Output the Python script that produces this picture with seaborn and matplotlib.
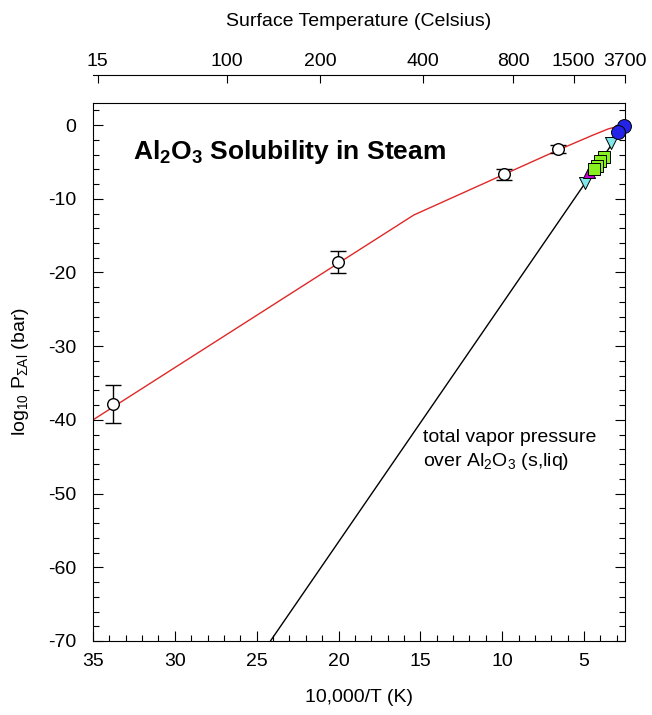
import numpy as np
import pandas as pd
import matplotlib
matplotlib.use("Agg")
import matplotlib.pyplot as plt
import seaborn as sns
from matplotlib.ticker import MultipleLocator

# ---------------- data ----------------
# model (red) solubility curve: 10000/T vs log10 P
model_x = [35.0, 15.4, 10.0, 6.6, 4.5, 3.5, 2.6]
model_y = [-40.0, -12.2, -6.8, -3.4, -1.4, -0.5, 0.0]

# total vapor pressure over Al2O3 (black line)
vapor_x = [24.16, 2.5]
vapor_y = [-70.0, 0.0]

# experimental points with error bars (open circles)
exp_x = [33.8, 20.05, 9.87, 6.59]
exp_y = [-37.8, -18.6, -6.7, -3.26]
exp_err = [2.6, 1.5, 0.8, 0.55]

# vapor-pressure measurement markers
blue_x = [2.58, 2.9]
blue_y = [-0.1, -0.9]
cyan_x = [3.34, 4.93]
cyan_y = [-2.4, -7.9]
green_x = [3.8, 4.0, 4.2, 4.42]
green_y = [-4.3, -4.9, -5.5, -6.0]
magenta_x = [4.7]
magenta_y = [-6.4]

celsius_ticks = [15, 100, 200, 400, 800, 1500, 3700]
bottom_ticks = [35, 30, 25, 20, 15, 10, 5]
y_ticks = [0, -10, -20, -30, -40, -50, -60, -70]

# ---------------- style ----------------
sns.set_theme(style="ticks")
plt.rcParams["font.family"] = ["Liberation Sans", "DejaVu Sans"]
plt.rcParams["mathtext.fontset"] = "custom"
plt.rcParams["mathtext.rm"] = "Liberation Sans"
plt.rcParams["mathtext.it"] = "Liberation Sans:italic"
plt.rcParams["mathtext.bf"] = "Liberation Sans:bold"
plt.rcParams["axes.unicode_minus"] = False
plt.rcParams["text.color"] = "black"
plt.rcParams["axes.labelcolor"] = "black"
plt.rcParams["xtick.color"] = "black"
plt.rcParams["ytick.color"] = "black"

FS = 14

fig = plt.figure(figsize=(6.52, 7.15), dpi=100)
ax = fig.add_axes([0.1426, 0.1035, 0.8160, 0.7525])

df_model = pd.DataFrame({"x": model_x, "y": model_y})
sns.lineplot(data=df_model, x="x", y="y", sort=False, color="#e02828", lw=1.0, ax=ax)
df_vap = pd.DataFrame({"x": vapor_x, "y": vapor_y})
sns.lineplot(data=df_vap, x="x", y="y", sort=False, color="black", lw=1.0, ax=ax)

ax.errorbar(exp_x, exp_y, yerr=exp_err, fmt="none", ecolor="black", elinewidth=1.0,
            capsize=6, capthick=1.0, zorder=3)
sns.scatterplot(x=exp_x, y=exp_y, marker="o", s=70, color="white", edgecolor="black",
                linewidth=1.0, ax=ax, zorder=4)

sns.scatterplot(x=cyan_x, y=cyan_y, marker="v", s=75, color="#7fe8ea", edgecolor="black",
                linewidth=0.7, ax=ax, zorder=4)
sns.scatterplot(x=magenta_x, y=magenta_y, marker="^", s=75, color="#c000d0", edgecolor="black",
                linewidth=0.7, ax=ax, zorder=4)
sns.scatterplot(x=green_x, y=green_y, marker="s", s=75, color="#88f020", edgecolor="black",
                linewidth=0.7, ax=ax, zorder=4)
sns.scatterplot(x=blue_x, y=blue_y, marker="o", s=100, color="#2424e8", edgecolor="black",
                linewidth=0.7, ax=ax, zorder=5, clip_on=False)

ax.set_xlim(35, 2.5)
ax.set_ylim(-70, 3)
ax.set_xticks(bottom_ticks)
ax.set_xticklabels([str(t) for t in bottom_ticks])
ax.xaxis.set_minor_locator(MultipleLocator(1))
ax.set_yticks(y_ticks)
ax.set_yticklabels([str(t) for t in y_ticks])
ax.yaxis.set_minor_locator(MultipleLocator(2))
ax.tick_params(which="both", direction="in", top=True, right=True, labelsize=FS, width=0.8,
               color="black", labelcolor="black")
ax.tick_params(which="major", length=7)
ax.tick_params(which="minor", length=4)
ax.tick_params(axis="x", which="major", pad=9)
ax.tick_params(axis="y", which="major", pad=12)
for s in ax.spines.values():
    s.set_linewidth(0.8)
    s.set_color("black")

ax.set_xlabel("10,000/T (K)", fontsize=FS, labelpad=13)
ax.set_ylabel(r"log$_{10}$ P$_{\mathrm{\Sigma Al}}$ (bar)", fontsize=FS, labelpad=12)

ax.text(32.55, -4.6, r"Al$_\mathbf{2}$O$_\mathbf{3}$ Solubility in Steam", fontsize=19,
        fontweight="bold", ha="left", va="baseline", color="black")
ax.text(14.85, -41.3, "total vapor pressure\nover Al$_2$O$_3$ (s,liq)", fontsize=14,
        ha="left", va="top", linespacing=1.3, color="black")

# secondary top axis (Celsius)
ax2 = ax.twiny()
ax2.set_xlim(ax.get_xlim())
ax2.set_xticks([10000.0 / (c + 273.15) for c in celsius_ticks])
ax2.set_xticklabels([str(c) for c in celsius_ticks])
ax2.spines["top"].set_position(("outward", 20))
for k in ["bottom", "left", "right"]:
    ax2.spines[k].set_visible(False)
ax2.spines["top"].set_linewidth(0.8)
ax2.spines["top"].set_color("black")
ax2.tick_params(axis="x", which="major", direction="in", length=6, width=0.8, labelsize=FS,
                pad=4, color="black", labelcolor="black")
ax2.tick_params(axis="y", left=False, right=False, labelleft=False, labelright=False)
ax2.set_xlabel("Surface Temperature (Celsius)", fontsize=FS, labelpad=19)

fig.savefig("out.png", dpi=100)
